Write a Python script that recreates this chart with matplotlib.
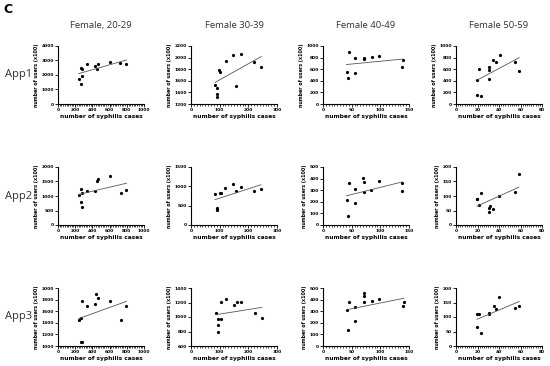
"""
Scatter grid: app users vs. syphilis cases, women by age group.
"""

import matplotlib
matplotlib.use("Agg")
import matplotlib.pyplot as plt
import numpy as np
from matplotlib.ticker import MultipleLocator, AutoMinorLocator

# ---------------------------------------------------------------------------
# Data
# ---------------------------------------------------------------------------

age_titles = ["Female, 20-29", "Female 30-39", "Female 40-49", "Female 50-59"]
app_labels = ["App1", "App2", "App3"]

# syphilis cases per age group (same for each app row)
cases_20_29 = [241, 268, 283, 276, 268, 338, 435, 450, 470, 610, 726, 796]
cases_30_39 = [84, 91, 91, 91, 99, 101, 121, 148, 158, 173, 221, 245]
cases_40_49 = [41, 43, 46, 55, 55, 71, 72, 86, 97, 139, 138]
cases_50_59 = [19.6, 19.6, 21.4, 23.6, 30.3, 31, 30.6, 34.3, 37, 40.7, 54.8, 58.8]

# App1 users (x100)
app1_20_29 = [1755, 2494, 2425, 1917, 1386, 2725, 2655, 2380, 2770, 2890, 2840, 2750]
app1_30_39 = [1531, 1480, 1377, 1314, 1789, 1754, 1943, 2040, 1503, 2063, 1931, 1846]
app1_40_49 = [554, 451, 897, 800, 543, 794, 783, 806, 829, 760, 646]
app1_50_59 = [411, 154, 600, 137, 646, 594, 423, 754, 731, 840, 720, 571]

# App2
app2_x_20_29 = [241, 268, 280, 268, 276, 334, 431, 450, 466, 606, 730, 796]
app2_20_29 = [1034, 1253, 1115, 782, 609, 1172, 1161, 1506, 1586, 1678, 1103, 1218]
app2_x_30_39 = [84, 90, 91, 91, 100, 103, 120, 147, 158, 174, 220, 244]
app2_30_39 = [806, 451, 416, 381, 815, 840, 953, 1049, 867, 979, 867, 927]
app2_x_40_49 = [41, 43, 46, 55, 55, 70, 71, 71, 84, 97, 138, 137]
app2_40_49 = [214, 75, 358, 309, 188, 402, 367, 286, 298, 379, 364, 292]
app2_x_50_59 = [19.6, 19.9, 21.4, 23.6, 30.3, 31, 31.5, 34.6, 40.4, 54.8, 58.5]
app2_50_59 = [91, 89, 68, 111, 44, 59, 64, 55, 99, 113, 175]

# App3
app3_x_20_29 = [241, 268, 276, 268, 276, 334, 431, 447, 466, 606, 730, 796]
app3_20_29 = [1440, 1480, 1771, 1069, 1063, 1686, 1720, 1897, 1829, 1777, 1446, 1691]
app3_x_30_39 = [87, 93, 93, 94, 103, 104, 123, 150, 160, 175, 223, 247]
app3_30_39 = [1057, 966, 883, 787, 979, 1213, 1255, 1163, 1209, 1213, 1053, 985]
app3_x_40_49 = [41, 43, 46, 55, 55, 71, 72, 72, 85, 98, 141, 139]
app3_40_49 = [311, 134, 383, 337, 217, 380, 454, 434, 391, 406, 377, 346]
app3_x_50_59 = [19.6, 21.4, 19.6, 23.6, 30.3, 31, 35, 37, 40.4, 54.8, 58.8]
app3_50_59 = [111, 109, 67, 46, 109, 115, 137, 127, 169, 130, 137]

panels = [
    [(cases_20_29, app1_20_29), (cases_30_39, app1_30_39),
     (cases_40_49, app1_40_49), (cases_50_59, app1_50_59)],
    [(app2_x_20_29, app2_20_29), (app2_x_30_39, app2_30_39),
     (app2_x_40_49, app2_40_49), (app2_x_50_59, app2_50_59)],
    [(app3_x_20_29, app3_20_29), (app3_x_30_39, app3_30_39),
     (app3_x_40_49, app3_40_49), (app3_x_50_59, app3_50_59)],
]

# axis limits / major steps per panel
x_limits = [(0, 1000, 200), (0, 300, 100), (0, 150, 50), (0, 80, 20)]
y_limits = [
    [(0, 4000, 1000), (1200, 2200, 200), (0, 1000, 200), (0, 1000, 200)],
    [(0, 2000, 500), (0, 1500, 500), (0, 500, 100), (0, 200, 50)],
    [(1000, 2000, 200), (600, 1400, 200), (0, 500, 100), (0, 200, 50)],
]

# ---------------------------------------------------------------------------
# Layout (pixel based, 550x366)
# ---------------------------------------------------------------------------

W, H = 550, 366
col_left = [58, 191, 323, 456]
row_top = [46, 167, 288]
AX_W, AX_H = 86, 58

fig = plt.figure(figsize=(W / 100, H / 100), dpi=100)
fig.patch.set_facecolor("white")

for r in range(3):
    for c in range(4):
        left = col_left[c] / W
        bottom = 1 - (row_top[r] + AX_H) / H
        ax = fig.add_axes([left, bottom, AX_W / W, AX_H / H])
        x, y = panels[r][c]
        x = np.asarray(x, float)
        y = np.asarray(y, float)

        ax.plot(x, y, "o", color="black", markersize=2.3, markeredgewidth=0)
        # linear regression, as drawn in the source figure
        slope, inter = np.polyfit(x, y, 1)
        xs = np.array([x.min(), x.max()])
        ax.plot(xs, slope * xs + inter, color="#555555", linewidth=0.6)

        x0, x1, xs_ = x_limits[c]
        y0, y1, ys_ = y_limits[r][c]
        ax.set_xlim(x0, x1)
        ax.set_ylim(y0, y1)
        ax.xaxis.set_major_locator(MultipleLocator(xs_))
        ax.yaxis.set_major_locator(MultipleLocator(ys_))
        ax.xaxis.set_minor_locator(AutoMinorLocator(10))

        for s in ("top", "right"):
            ax.spines[s].set_visible(False)
        for s in ("left", "bottom"):
            ax.spines[s].set_linewidth(0.8)
        ax.tick_params(which="major", length=2, width=0.6, pad=1,
                       labelsize=3.2, direction="out")
        ax.tick_params(which="minor", length=1.2, width=0.5)
        for lab in ax.get_xticklabels() + ax.get_yticklabels():
            lab.set_fontweight("bold")

        ax.set_xlabel("number of syphilis cases", fontsize=4.2,
                      fontweight="bold", labelpad=1.5)
        ax.set_ylabel("number of users (x100)", fontsize=3.4,
                      fontweight="bold", labelpad=1.5)

        if r == 0:
            ax.set_title(age_titles[c], fontsize=6.8, color="#333333",
                         family="Open Sans", pad=13)
        if c == 0:
            fig.text(5 / W, 1 - (row_top[r] + AX_H / 2) / H, app_labels[r],
                     fontsize=8, color="#333333", family="Open Sans",
                     ha="left", va="center")

fig.text(3 / W, 1 - 3 / H, "C", fontsize=9, fontweight="bold",
         ha="left", va="top")

fig.savefig("out.png", dpi=100)
